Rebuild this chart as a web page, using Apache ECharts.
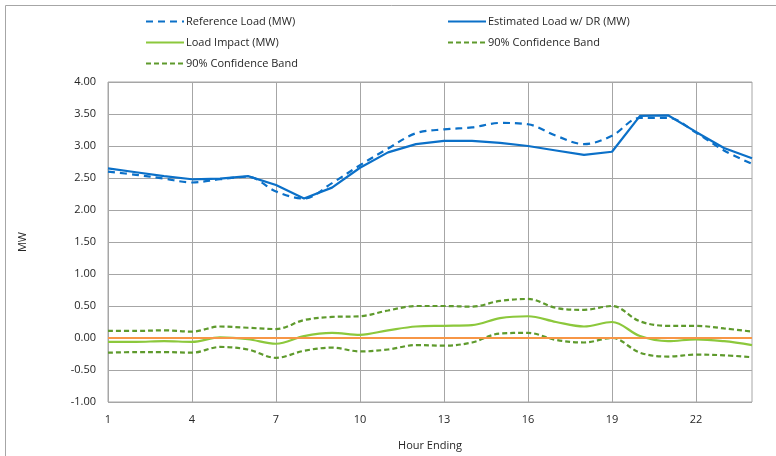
<!DOCTYPE html>
<html>
<head>
<meta charset="utf-8">
<script src="https://cdn.jsdelivr.net/npm/echarts@6/dist/echarts.min.js"></script>
<style>
  html, body { margin: 0; padding: 0; background: #fff; }
  #chart { width: 776px; height: 456px; }
</style>
</head>
<body>
<div id="chart"></div>
<script>
// Hourly load profile for the event day
const hours = ['1','2','3','4','5','6','7','8','9','10','11','12','13','14','15','16','17','18','19','20','21','22','23','24'];
const referenceLoad = [2.60, 2.55, 2.49, 2.43, 2.48, 2.52, 2.29, 2.18, 2.42, 2.70, 2.96, 3.20, 3.26, 3.29, 3.36, 3.34, 3.16, 3.03, 3.16, 3.44, 3.44, 3.21, 2.93, 2.72];
const estimatedLoad = [2.65, 2.59, 2.53, 2.48, 2.49, 2.53, 2.39, 2.18, 2.35, 2.66, 2.90, 3.03, 3.08, 3.08, 3.05, 3.00, 2.93, 2.86, 2.91, 3.47, 3.48, 3.22, 2.97, 2.81];
const loadImpact = [-0.06, -0.06, -0.05, -0.06, 0.01, -0.02, -0.09, 0.03, 0.08, 0.05, 0.12, 0.18, 0.19, 0.20, 0.31, 0.34, 0.25, 0.18, 0.25, 0.03, -0.05, -0.02, -0.05, -0.11];
const upperBand = [0.11, 0.11, 0.12, 0.10, 0.18, 0.16, 0.14, 0.28, 0.33, 0.34, 0.43, 0.50, 0.50, 0.49, 0.58, 0.61, 0.47, 0.44, 0.50, 0.26, 0.19, 0.19, 0.15, 0.10];
const lowerBand = [-0.23, -0.22, -0.22, -0.23, -0.14, -0.18, -0.31, -0.20, -0.15, -0.21, -0.18, -0.11, -0.12, -0.07, 0.07, 0.08, -0.03, -0.07, 0.00, -0.23, -0.29, -0.26, -0.27, -0.30];
const zeroLevel = 0;

const FONT = 'Open Sans';
const BLUE = '#0B70C8';
const LIGHT_GREEN = '#8CC83C';
const DARK_GREEN = '#5E9A2C';
const ORANGE = '#F79646';

const seriesNames = ['Reference Load (MW)', 'Estimated Load w/ DR (MW)', 'Load Impact (MW)', '90% Confidence Band', '90% Confidence Band '];

function legendAt(name, left, top) {
  return {
    data: [name],
    left: left, top: top,
    padding: 0,
    itemWidth: 38, itemHeight: 12, itemGap: 0,
    selectedMode: false,
    itemStyle: { opacity: 0 },
    textStyle: { fontFamily: FONT, fontSize: 11, color: '#262626', padding: [0, 0, 0, -3] }
  };
}

const chart = echarts.init(document.getElementById('chart'), null, { renderer: 'canvas' });
chart.setOption({
  animation: false,
  backgroundColor: '#fff',
  graphic: [{
    type: 'rect', silent: true,
    shape: { x: 5.5, y: 5.5, width: 1000, height: 1000 },
    style: { fill: 'none', stroke: '#a6a6a6', lineWidth: 1 }
  }],
  legend: [
    legendAt(seriesNames[0], 145, 16),
    legendAt(seriesNames[1], 447, 16),
    legendAt(seriesNames[2], 145, 37),
    legendAt(seriesNames[3], 447, 37),
    legendAt(seriesNames[4], 145, 58)
  ],
  grid: {
    left: 108, top: 82, width: 644, height: 324,
    show: true, borderColor: '#a6a6a6', borderWidth: 1
  },
  xAxis: {
    type: 'category', data: hours, boundaryGap: false,
    name: 'Hour Ending', nameLocation: 'middle', nameGap: 38,
    nameTextStyle: { fontFamily: FONT, fontSize: 11, color: '#262626' },
    axisLine: { show: false },
    axisTick: { show: false },
    axisLabel: { interval: 2, fontFamily: FONT, fontSize: 11, color: '#262626', margin: 12 },
    splitLine: { show: true, interval: 2, lineStyle: { color: '#a6a6a6', width: 1 } }
  },
  yAxis: {
    type: 'value', min: -1, max: 4, interval: 0.5,
    name: 'MW', nameLocation: 'middle', nameGap: 80, nameRotate: 90,
    nameTextStyle: { fontFamily: FONT, fontSize: 11, color: '#262626' },
    axisLine: { show: false },
    axisTick: { show: false },
    axisLabel: { fontFamily: FONT, fontSize: 11, color: '#262626', margin: 12,
      formatter: v => v.toFixed(2) },
    splitLine: { lineStyle: { color: '#a6a6a6', width: 1 } }
  },
  series: [
    {
      name: seriesNames[0], type: 'line', data: referenceLoad, symbol: 'none', smooth: 0.35,
      lineStyle: { color: BLUE, width: 2.2, type: [7, 5] }, itemStyle: { color: BLUE }, z: 3
    },
    {
      name: seriesNames[1], type: 'line', data: estimatedLoad, symbol: 'none', smooth: false,
      lineStyle: { color: BLUE, width: 2.2 }, itemStyle: { color: BLUE }, z: 4
    },
    {
      name: seriesNames[2], type: 'line', data: loadImpact, symbol: 'none', smooth: 0.35,
      lineStyle: { color: LIGHT_GREEN, width: 2.2 }, itemStyle: { color: LIGHT_GREEN }, z: 4,
      markLine: {
        silent: true, symbol: 'none', label: { show: false },
        lineStyle: { color: ORANGE, width: 2.2, type: 'solid' },
        data: [{ yAxis: zeroLevel }]
      }
    },
    {
      name: seriesNames[3], type: 'line', data: upperBand, symbol: 'none', smooth: 0.35,
      lineStyle: { color: DARK_GREEN, width: 2.2, type: [5, 3] }, itemStyle: { color: DARK_GREEN }, z: 3
    },
    {
      name: seriesNames[4], type: 'line', data: lowerBand, symbol: 'none', smooth: 0.35,
      lineStyle: { color: DARK_GREEN, width: 2.2, type: [5, 3] }, itemStyle: { color: DARK_GREEN }, z: 3
    }
  ]
});
</script>
</body>
</html>
